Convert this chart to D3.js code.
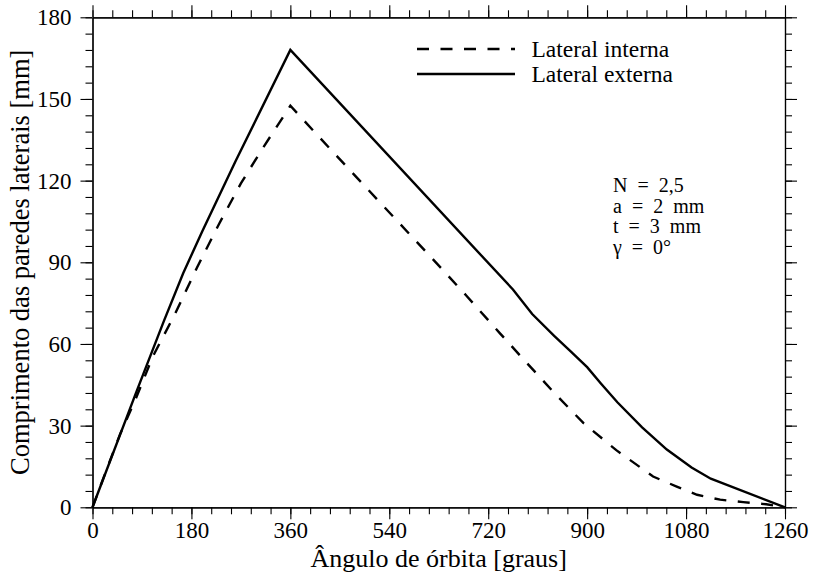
<!DOCTYPE html>
<html>
<head>
<meta charset="utf-8">
<script src="https://cdn.jsdelivr.net/npm/d3@7"></script>
<style>
  html, body { margin: 0; padding: 0; background: #fff; }
  svg { display: block; }
</style>
</head>
<body>
<svg id="chart" width="817" height="572"></svg>
<script>
// Comprimento das paredes laterais ao longo do ângulo de órbita
const orbitaInterna = [0, 20, 50, 80, 110, 150, 190, 230, 270, 310, 360, 440, 500, 560, 620, 680, 741, 780, 838, 893, 953, 1020, 1063, 1100, 1142, 1184, 1226, 1260];
const lateralInterna = [0, 10.8, 26.8, 40.5, 55.5, 71, 88, 104, 119, 132, 147.5, 130, 117, 104, 91, 77.8, 64, 55.3, 42.5, 31, 21, 11.3, 7.6, 4.6, 2.8, 1.9, 1.1, 0];

const orbitaExterna = [0, 80, 130, 165, 200, 260, 360, 765, 800, 840, 870, 900, 925, 955, 1000, 1045, 1090, 1125, 1260];
const lateralExterna = [0, 42.5, 68.5, 86, 101.5, 127, 168, 80, 71, 63, 57.3, 51.5, 45.5, 38.6, 29.4, 21.2, 14.6, 10.5, 0];

const xTicks = [0, 180, 360, 540, 720, 900, 1080, 1260];
const yTicks = [0, 30, 60, 90, 120, 150, 180];

const seriesNames = ["Lateral interna", "Lateral externa"];
const parametros = ["N = 2,5", "a = 2 mm", "t = 3 mm", "γ = 0°"];

const FONT = "'Liberation Serif', 'Times New Roman', 'DejaVu Serif', serif";

const svg = d3.select("#chart");
const plotLeft = 92.5, plotRight = 785, plotTop = 17.3, plotBottom = 507.3;

const x = d3.scaleLinear().domain([0, 1260]).range([plotLeft, plotRight]);
const y = d3.scaleLinear().domain([0, 180]).range([plotBottom, plotTop]);

const xMinor = d3.range(0, 1261, 36);
const yMinor = d3.range(0, 181, 6);

function styleAxis(g) {
  g.attr("font-family", FONT).attr("font-size", 23);
  g.select(".domain").attr("stroke", "#000").attr("stroke-width", 1.2);
  g.selectAll(".tick line").attr("stroke", "#000").attr("stroke-width", 1.1);
  g.selectAll("text").attr("fill", "#000");
}

// minor ticks on all four sides
svg.append("g").attr("transform", `translate(0,${plotBottom})`)
  .call(d3.axisBottom(x).tickValues(xMinor).tickSize(7).tickSizeOuter(0).tickFormat(""))
  .call(styleAxis);
svg.append("g").attr("transform", `translate(0,${plotTop})`)
  .call(d3.axisTop(x).tickValues(xMinor).tickSize(7).tickSizeOuter(0).tickFormat(""))
  .call(styleAxis);
svg.append("g").attr("transform", `translate(${plotLeft},0)`)
  .call(d3.axisLeft(y).tickValues(yMinor).tickSize(7).tickSizeOuter(0).tickFormat(""))
  .call(styleAxis);
svg.append("g").attr("transform", `translate(${plotRight},0)`)
  .call(d3.axisRight(y).tickValues(yMinor).tickSize(7).tickSizeOuter(0).tickFormat(""))
  .call(styleAxis);

// major ticks with labels
svg.append("g").attr("transform", `translate(0,${plotBottom})`)
  .call(d3.axisBottom(x).tickValues(xTicks).tickSize(12).tickSizeOuter(0).tickPadding(2).tickFormat(d3.format("d")))
  .call(styleAxis);
svg.append("g").attr("transform", `translate(0,${plotTop})`)
  .call(d3.axisTop(x).tickValues(xTicks).tickSize(12).tickSizeOuter(0).tickFormat(""))
  .call(styleAxis);
svg.append("g").attr("transform", `translate(${plotLeft},0)`)
  .call(d3.axisLeft(y).tickValues(yTicks).tickSize(12).tickSizeOuter(0).tickPadding(9).tickFormat(d3.format("d")))
  .call(styleAxis);
svg.append("g").attr("transform", `translate(${plotRight},0)`)
  .call(d3.axisRight(y).tickValues(yTicks).tickSize(12).tickSizeOuter(0).tickFormat(""))
  .call(styleAxis);

// curves
const line = d3.line().x(d => x(d[0])).y(d => y(d[1]));
const interna = d3.zip(orbitaInterna, lateralInterna);
const externa = d3.zip(orbitaExterna, lateralExterna);

svg.append("path").datum(interna)
  .attr("d", line).attr("fill", "none").attr("stroke", "#000")
  .attr("stroke-width", 2.4).attr("stroke-dasharray", "12,11.5")
  .attr("stroke-linejoin", "miter");
svg.append("path").datum(externa)
  .attr("d", line).attr("fill", "none").attr("stroke", "#000")
  .attr("stroke-width", 2.4).attr("stroke-linejoin", "miter");

// legend
const legend = svg.append("g").attr("font-family", FONT);
const legY = [49, 74];
legend.append("line").attr("x1", 417).attr("x2", 515).attr("y1", legY[0]).attr("y2", legY[0])
  .attr("stroke", "#000").attr("stroke-width", 2.4).attr("stroke-dasharray", "12,11.5");
legend.append("line").attr("x1", 417).attr("x2", 515).attr("y1", legY[1]).attr("y2", legY[1])
  .attr("stroke", "#000").attr("stroke-width", 2.4);
legend.selectAll("text.leg").data(seriesNames).join("text")
  .attr("class", "leg")
  .attr("x", 531.5).attr("y", (d, i) => legY[i] + 7.5)
  .attr("font-size", 23.5).text(d => d);

// parameters block
svg.append("g").attr("font-family", FONT).selectAll("text").data(parametros).join("text")
  .attr("x", 613).attr("y", (d, i) => 192 + i * 20.6)
  .attr("font-size", 20).attr("word-spacing", 5).text(d => d);

// axis titles
svg.append("text").attr("font-family", FONT)
  .attr("x", (plotLeft + plotRight) / 2).attr("y", 567)
  .attr("text-anchor", "middle").attr("font-size", 26)
  .text("Ângulo de órbita [graus]");
svg.append("text").attr("font-family", FONT)
  .attr("transform", `translate(28.5,${(plotTop + plotBottom) / 2}) rotate(-90)`)
  .attr("text-anchor", "middle").attr("font-size", 26.5)
  .text("Comprimento das paredes laterais [mm]");
</script>
</body>
</html>
